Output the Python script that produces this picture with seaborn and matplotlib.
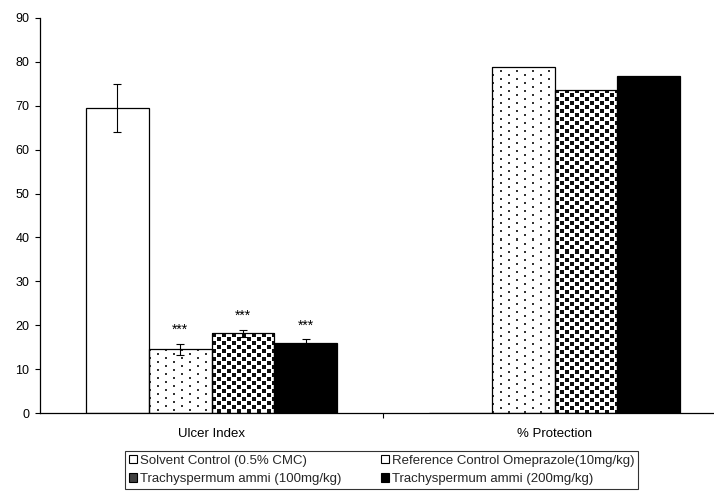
import numpy as np
import pandas as pd
import matplotlib
matplotlib.use("Agg")
import matplotlib.pyplot as plt
from matplotlib.patches import Patch
import seaborn as sns

# Measured parameters and treatment groups
parameters = ["Ulcer Index", "% Protection"]
treatments = [
    "Solvent Control (0.5% CMC)",
    "Reference Control Omeprazole(10mg/kg)",
    "Trachyspermum ammi (100mg/kg)",
    "Trachyspermum ammi (200mg/kg)",
]
ulcer_index = [69.5, 14.5, 18.2, 15.9]
ulcer_sem = [5.5, 1.2, 0.8, 0.9]
protection = [0.0, 78.9, 73.6, 76.8]
protection_sem = [0.0, 0.0, 0.0, 0.0]
significance = ["", "***", "***", "***"]
y_ticks = [0, 10, 20, 30, 40, 50, 60, 70, 80, 90]

df = pd.DataFrame({
    "parameter": [parameters[0]] * 4 + [parameters[1]] * 4,
    "treatment": treatments * 2,
    "value": ulcer_index + protection,
    "sem": ulcer_sem + protection_sem,
})

sns.set_theme(style="white")
plt.rcParams["font.family"] = ["Liberation Sans", "DejaVu Sans"]

fig = plt.figure(figsize=(7.14, 4.91), dpi=100)
ax = fig.add_axes([40 / 714, 78 / 491, 686 / 714, 395 / 491])

sns.barplot(
    data=df, x="parameter", y="value", hue="treatment",
    order=parameters, hue_order=treatments,
    palette=["white", "white", "white", "black"],
    edgecolor="black", linewidth=0.9, width=0.732,
    errorbar=None, legend=False, ax=ax, saturation=1,
)
bar_groups = list(ax.containers)

ax.set_xlim(-0.5, 1.5)
ax.set_ylim(0, 90)
ax.set_yticks(y_ticks)

# pixel tiles for the patterned fills
dot_tile = np.ones((8, 16))
dot_tile[0:2, 0:2] = 0.2
dot_tile[4:6, 8:10] = 0.2

square_tile = np.ones((8, 10))
square_tile[0:4, 0:4] = 0.05
square_tile[4:8, 5:9] = 0.05


def fill_with_tile(bars, tile):
    fig.canvas.draw()
    for bar in bars:
        x0, y0 = bar.get_x(), bar.get_y()
        w, h = bar.get_width(), bar.get_height()
        if h <= 0:
            continue
        p0 = ax.transData.transform((x0, y0))
        p1 = ax.transData.transform((x0 + w, y0 + h))
        nx = max(int(round(p1[0] - p0[0])), 1)
        ny = max(int(round(p1[1] - p0[1])), 1)
        reps = (ny // tile.shape[0] + 2, nx // tile.shape[1] + 2)
        tex = np.tile(tile, reps)[:ny, :nx]
        bar.set_facecolor("none")
        im = ax.imshow(tex, extent=(x0, x0 + w, y0, y0 + h), cmap="gray",
                       vmin=0, vmax=1, interpolation="nearest", aspect="auto",
                       origin="upper", zorder=bar.get_zorder() - 0.1)
        im.set_clip_path(bar)
        ax.set_xlim(-0.5, 1.5)
        ax.set_ylim(0, 90)


fill_with_tile(bar_groups[1], dot_tile)
fill_with_tile(bar_groups[2], square_tile)

ax.set_xlim(-0.5, 1.5)
ax.set_ylim(0, 90)

# error bars and significance marks on the ulcer index bars
for k, cont in enumerate(bar_groups):
    for j, bar in enumerate(cont):
        err = [ulcer_sem, protection_sem][j][k]
        val = [ulcer_index, protection][j][k]
        xc = bar.get_x() + bar.get_width() / 2
        if err > 0:
            ax.errorbar(xc, val, yerr=err, fmt="none", ecolor="black",
                        elinewidth=0.8, capsize=3, capthick=0.8, zorder=5)
        if j == 0 and significance[k]:
            ax.annotate(significance[k], (xc, val + err), xytext=(0, 5),
                        textcoords="offset points", ha="center", va="bottom",
                        fontsize=10, color="black")

sns.despine(ax=ax)
for s in ["left", "bottom"]:
    ax.spines[s].set_color("black")
    ax.spines[s].set_linewidth(0.9)

ax.set_xlabel("")
ax.set_ylabel("")
ax.tick_params(axis="y", which="major", direction="out", length=3.6, width=0.8,
               color="black", labelsize=9, pad=4, left=True)
ax.tick_params(axis="x", which="major", length=0, labelsize=9.5, pad=11)
ax.set_xticks([0.5], minor=True)
ax.tick_params(axis="x", which="minor", direction="out", length=3.6, width=0.8,
               color="black", bottom=True)
for lab in ax.get_xticklabels() + ax.get_yticklabels():
    lab.set_color("black")

handles = [
    Patch(facecolor="white", edgecolor="black", linewidth=0.8),
    Patch(facecolor="0.25", edgecolor="black", linewidth=0.8),
    Patch(facecolor="white", edgecolor="black", linewidth=0.8),
    Patch(facecolor="black", edgecolor="black", linewidth=0.8),
]
labels = [treatments[0], treatments[2], treatments[1], treatments[3]]
leg = fig.legend(handles, labels, ncol=2, loc="upper left",
                 bbox_to_anchor=(125 / 714, 1 - 451 / 491),
                 fontsize=9.5, frameon=True, fancybox=False,
                 handlelength=0.6, handleheight=0.6, handletextpad=0.25,
                 borderpad=0.28, labelspacing=0.48, columnspacing=3.0,
                 borderaxespad=0)
leg.get_frame().set_edgecolor("black")
leg.get_frame().set_linewidth(0.8)

fig.savefig("out.png", dpi=100)
